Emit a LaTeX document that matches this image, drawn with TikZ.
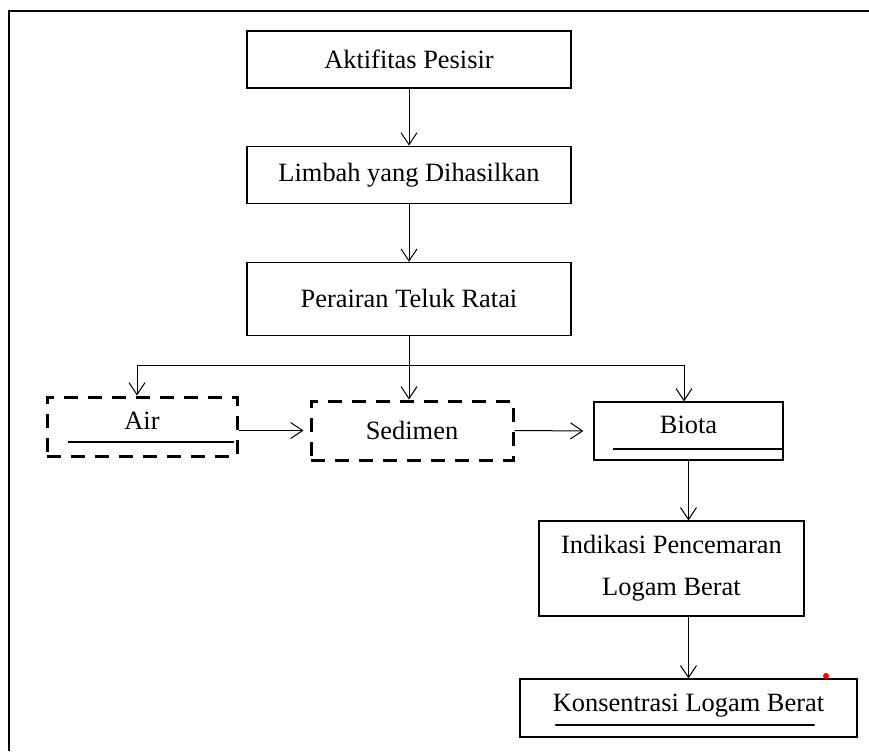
\documentclass[tikz,border=0pt]{standalone}
\usepackage{fontspec}
\setmainfont{Liberation Serif}
\usetikzlibrary{positioning,arrows.meta}

\tikzset{
	box/.style={draw, line width=0.6pt, inner sep=0pt, minimum height=28.5pt,
		font=\fontsize{13.2}{21}\selectfont, align=center},
	dbox/.style={box, line width=1.5pt, dash pattern=on 7pt off 5pt},
	arr/.style={-{Straight Barb[length=6pt,width=8pt]}, line width=0.5pt},
	uline/.style={line width=1.3pt, line cap=round},
}

\begin{document}
\begin{tikzpicture}[x=0.5pt, y=-0.5pt]
	\useasboundingbox (0,0) rectangle (869,751);

	%% FRAME
	\coordinate (frame_bl) at (9,751);
	\coordinate (frame_tl) at (9,11);
	\coordinate (frame_tr) at (869,11);
	\draw[line width=1pt] (frame_bl) -- (frame_tl) -- (frame_tr);

	%% MAIN COLUMN
	\node[box, minimum width=162pt](aktif) at (409,59.5){Aktifitas Pesisir};
	\node[box, minimum width=162pt, below=28.5pt of aktif](limbah){Limbah yang Dihasilkan};
	\node[box, minimum width=162pt, minimum height=36.5pt, below=29pt of limbah](perairan){Perairan Teluk Ratai};

	\draw[arr] (aktif) -- (limbah);
	\draw[arr] (limbah) -- (perairan);

	%% BRANCHES
	\coordinate (bar) at (409,365);
	\coordinate (bar_l) at (137,365);
	\coordinate (bar_r) at (684,365);

	\node[dbox, minimum width=95pt, minimum height=29.5pt, text depth=6pt](air) at (142,426.5){Air};
	\node[dbox, minimum width=101pt, minimum height=29.5pt](sedimen) at (412,430.5){Sedimen};
	\node[box, minimum width=94.5pt, minimum height=29pt, text depth=6pt](biota) at (688.5,431){Biota};

	\draw[line width=0.5pt] (perairan) -- (bar);
	\draw[line width=0.5pt] (bar_l) -- (bar_r);
	\draw[arr] (bar_l) -- (bar_l |- air.north);
	\draw[arr] (bar) -- (bar |- sedimen.north);
	\draw[arr] (bar_r) -- (bar_r |- biota.north);

	\draw[arr, shorten >=3pt] (air.east |- sedimen.west) -- (sedimen.west);
	\draw[arr, shorten >=5pt] (sedimen.east) -- (biota.west);

	%% UNDERLINES
	\coordinate (air_ul_a) at (68,442);
	\coordinate (air_ul_b) at (234,442);
	\draw[line width=0.6pt] (air_ul_a) -- (air_ul_b);
	\coordinate (biota_ul_a) at (613,449);
	\coordinate (biota_ul_b) at (783,449);
	\draw[line width=1.3pt] (biota_ul_a) -- (biota_ul_b);

	%% POLLUTION
	\node[box, minimum width=132.5pt, minimum height=47.5pt](indikasi) at (671.5,568.5){Indikasi Pencemaran\\Logam Berat};
	\node[box, minimum width=168.5pt, minimum height=29pt, text depth=5pt](konsentrasi) at (688.5,708){Konsentrasi Logam Berat};

	\draw[arr] (biota) -- (biota |- indikasi.north);
	\draw[arr] (biota |- indikasi.south) -- (biota |- konsentrasi.north);

	\coordinate (kons_ul_a) at (556,725);
	\coordinate (kons_ul_b) at (814,725);
	\draw[uline] (kons_ul_a) -- (kons_ul_b);

	\fill[red] (826,676) circle (1.5pt);
\end{tikzpicture}
\end{document}
